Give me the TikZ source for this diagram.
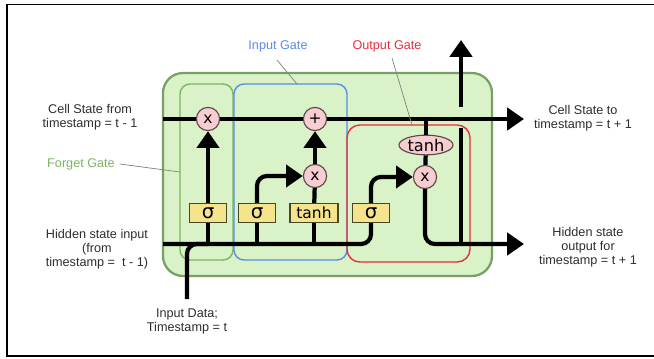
\documentclass[tikz,border=0pt]{standalone}
\usepackage{fontspec}
\setmainfont{Liberation Sans}
\newfontfamily\symfont{DejaVu Sans}
\usetikzlibrary{arrows.meta, positioning, shapes.geometric}
\definecolor{cellfill}{RGB}{217,242,200}
\definecolor{celldraw}{RGB}{120,160,100}
\definecolor{forgetgreen}{RGB}{125,180,100}
\definecolor{inputblue}{RGB}{90,140,225}
\definecolor{outputred}{RGB}{232,45,60}
\definecolor{opfill}{RGB}{248,205,210}
\definecolor{opdraw}{RGB}{90,70,70}
\definecolor{actfill}{RGB}{245,228,140}
\definecolor{actdraw}{RGB}{70,70,40}
\definecolor{labeltext}{RGB}{45,45,45}
\tikzset{
  op/.style={circle, draw=opdraw, fill=opfill, line width=0.8pt,
    minimum size=0.58cm, inner sep=0pt, font=\symfont\fontsize{11}{11}\selectfont},
  act/.style={rectangle, draw=actdraw, fill=actfill, line width=0.8pt,
    minimum height=0.475cm, minimum width=0.925cm, inner sep=0pt,
    font=\symfont\fontsize{14}{14}\selectfont},
  flow/.style={line width=3pt, black, rounded corners=7pt},
  tip/.style={-{Triangle[length=0.42cm, width=0.55cm]}},
  gatebox/.style={line width=1pt},
  caption/.style={align=center, text=labeltext, font=\fontsize{9}{10}\selectfont},
  leader/.style={gray, line width=0.5pt}
}

\begin{document}
\begin{tikzpicture}[x=0.025cm, y=-0.025cm]
  \useasboundingbox (0,0) rectangle (654,358);
  \draw[line width=1.4pt] (654,4.5) -- (7,4.5) -- (7,356) -- (654,356);

  % cell and gate boxes
  \draw[celldraw, fill=cellfill, line width=1.6pt, rounded corners=0.5cm] (163,73) rectangle (492,276);
  \draw[gatebox, forgetgreen, rounded corners=0.25cm] (180,84) rectangle (233,260);
  \draw[gatebox, inputblue, rounded corners=0.25cm] (234,84) rectangle (347,260);
  \draw[gatebox, outputred, rounded corners=0.32cm] (347,125) rectangle (470,262);

  % operations
  \node[op] (fx) at (208,119) {x};
  \node[op] (plus) at (315,119) {+};
  \node[op] (ix) at (315,176) {x};
  \node[op] (ox) at (425,177) {x};
  \node[act] (fsig) at (208,213) {σ};
  \node[act] (isig) at (257,213) {σ};
  \node[act, minimum width=1.2cm, font=\symfont\fontsize{11}{11}\selectfont] (itanh) at (314,213) {tanh};
  \node[act] (osig) at (371,213) {σ};
  \node[ellipse, draw=opdraw, fill=opfill, line width=0.8pt, inner sep=0.5pt,
    font=\symfont\fontsize{11.5}{11.5}\selectfont] (otanh) at (426,145) {tanh};

  \coordinate (cellin) at (163,119);
  \coordinate (cellout) at (524,119);
  \coordinate (hin) at (163,244);
  \coordinate (hout) at (524,244);
  \coordinate (xin) at (187,299);
  \coordinate (hup) at (461,40);
  \coordinate (jumpbot) at (461,128);
  \coordinate (jumptop) at (461,107);

  % cell state
  \draw[flow] (cellin) -- (fx);
  \draw[flow] (fx) -- (plus);
  \draw[flow, tip] (plus) -- (cellout);
  \draw[flow] (otanh) -- (otanh |- cellout);

  % hidden state and input
  \draw[flow] (hin) -| (osig);
  \draw[flow] (xin) |- (fsig |- hin);
  \draw[flow] (fsig |- hin) -- (fsig);
  \draw[flow, tip] (fsig) -- (fx);
  \draw[flow] (isig |- hin) -- (isig);
  \draw[flow, tip] (isig) |- (ix);
  \draw[flow] (itanh |- hin) -- (itanh);
  \draw[flow] (itanh) -- (ix);
  \draw[flow, tip] (ix) -- (plus);
  \draw[flow, tip] (osig) |- (ox);
  \draw[flow] (ox) -- (otanh);
  \draw[flow, tip] (ox) |- (hout);
  \draw[flow] (hup |- hout) -- (jumpbot);
  \draw[flow, tip] (jumptop) -- (hup);

  % labels
  \node[caption] (cellinlabel) at (90,117) {Cell State from\\timestamp = t - 1};
  \node[caption] (celloutlabel) at (583,118) {Cell State to\\timestamp = t + 1};
  \node[caption] (hinlabel) at (97,249) {Hidden state input\\(from\\timestamp =~ t - 1)};
  \node[caption] (houtlabel) at (588,247) {Hidden state\\output for\\timestamp = t + 1};
  \node[caption] (xinlabel) at (187,321) {Input Data;\\Timestamp = t};
  \node[caption, text=forgetgreen] (forgetlabel) at (81,164) {Forget Gate};
  \node[caption, text=inputblue] (inputlabel) at (278,46) {Input Gate};
  \node[caption, text=outputred] (outputlabel) at (387,46) {Output Gate};
  \draw[leader] (forgetlabel.east) -- (180,172);
  \draw[leader] (277,60) -- (297,84);
  \draw[leader] (392,58) -- (412,125);
\end{tikzpicture}
\end{document}
